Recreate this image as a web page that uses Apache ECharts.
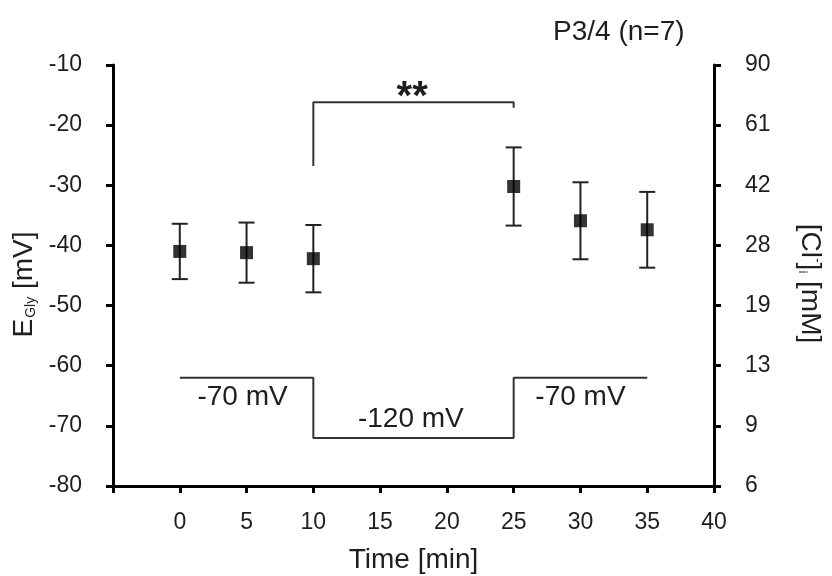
<!DOCTYPE html>
<html>
<head>
<meta charset="utf-8">
<script src="https://cdn.jsdelivr.net/npm/echarts@6/dist/echarts.min.js"></script>
<style>
  html, body { margin: 0; background: #fff; }
  #chart { width: 832px; height: 576px; }
</style>
</head>
<body>
<div id="chart"></div>
<script>
// measured points (mean +/- error) of E_Gly over time
const times = [0, 5, 10, 25, 30, 35];
const means = [-41.0, -41.2, -42.2, -30.2, -35.9, -37.4];
const errs = [4.6, 5.0, 5.6, 6.5, 6.4, 6.3];

// right axis tick labels ([Cl-]i in mM), bottom to top
const clLabels = ["6", "9", "13", "19", "28", "42", "61", "90"];

// holding potential protocol drawn below the points
const stepX = [0, 10, 10, 25, 25, 35];
const stepY = [-62, -62, -72, -72, -62, -62];
const stepText = ["-70 mV", "-120 mV", "-70 mV"];
const stepTextX = [4.7, 17.3, 30];
const stepTextY = [-65.3, -68.9, -65.3];

// significance bracket
const bracketX = [10, 10, 25, 25];
const bracketY = [-26.8, -16.2, -16.2, -17.1];
const starText = ["**"];
const starX = [17.4];
const starY = [-15.5];

const font = "Liberation Sans";
const txt = "#1e1e1e";

let myChart = echarts.init(document.getElementById("chart"));

myChart.setOption({
  backgroundColor: "#fff",
  animation: false,
  textStyle: { fontFamily: font },
  title: {
    text: "P3/4 (n=7)",
    left: 548,
    top: 13,
    textStyle: { fontFamily: font, fontSize: 28, fontWeight: "normal", color: txt },
  },
  grid: { left: 113, right: 118, top: 65, bottom: 90, outerBoundsMode: "none" },
  xAxis: {
    type: "value",
    min: -5,
    max: 40,
    interval: 5,
    name: "Time [min]",
    nameLocation: "middle",
    nameGap: 60,
    nameTextStyle: { fontSize: 28, color: txt, fontFamily: font },
    splitLine: { show: false },
    axisLine: { onZero: false, lineStyle: { color: "#000", width: 3 } },
    axisTick: { length: 7, lineStyle: { color: "#000", width: 3 } },
    axisLabel: {
      margin: 25,
      fontSize: 23,
      color: txt,
      fontFamily: font,
      formatter: (v) => (v < 0 ? "" : String(v)),
    },
  },
  yAxis: [
    {
      type: "value",
      min: -80,
      max: -10,
      interval: 10,
      position: "left",
      name: "{e|E}{s|Gly}{e| [mV]}",
      nameLocation: "middle",
      nameRotate: 90,
      nameGap: 72,
      nameTextStyle: {
        color: txt,
        fontFamily: font,
        padding: [0, 18, 0, 0],
        rich: {
          e: { fontSize: 28, color: txt, fontFamily: font },
          s: { fontSize: 14, color: txt, fontFamily: font, verticalAlign: "bottom", padding: [0, 0, 0, 1] },
        },
      },
      splitLine: { show: false },
      axisLine: { show: true, onZero: false, lineStyle: { color: "#000", width: 3 } },
      axisTick: { show: true, length: 7, lineStyle: { color: "#000", width: 3 } },
      axisLabel: { margin: 31, fontSize: 23, color: txt, fontFamily: font },
    },
    {
      type: "value",
      min: -80,
      max: -10,
      interval: 10,
      position: "right",
      name: "[Cl{p|-}]{s|i}{e| [mM]}",
      nameLocation: "middle",
      nameRotate: -90,
      nameGap: 82,
      nameTextStyle: {
        fontSize: 28,
        color: txt,
        fontFamily: font,
        padding: [0, 0, 0, 16],
        rich: {
          e: { fontSize: 28, color: txt, fontFamily: font },
          p: { fontSize: 14, color: txt, fontFamily: font, verticalAlign: "top" },
          s: { fontSize: 13, color: txt, fontFamily: font, verticalAlign: "bottom" },
        },
      },
      splitLine: { show: false },
      axisLine: { show: true, onZero: false, lineStyle: { color: "#000", width: 3 } },
      axisTick: { show: true, length: 7, lineStyle: { color: "#000", width: 3 } },
      axisLabel: {
        margin: 31,
        fontSize: 23,
        color: txt,
        fontFamily: font,
        formatter: (v) => clLabels[Math.round((v + 80) / 10)],
      },
    },
  ],
  series: [
    {
      name: "protocol",
      type: "line",
      data: stepX.map((x, i) => [x, stepY[i]]),
      symbol: "none",
      silent: true,
      lineStyle: { color: "#333", width: 2 },
    },
    {
      name: "bracket",
      type: "line",
      data: bracketX.map((x, i) => [x, bracketY[i]]),
      symbol: "none",
      silent: true,
      lineStyle: { color: "#333", width: 2 },
    },
    {
      name: "errors",
      type: "custom",
      data: times.map((t, i) => [t, means[i] - errs[i], means[i] + errs[i]]),
      renderItem: function (params, api) {
        const lo = api.coord([api.value(0), api.value(1)]);
        const hi = api.coord([api.value(0), api.value(2)]);
        const w = 8;
        const style = { stroke: "#222", lineWidth: 2 };
        return {
          type: "group",
          children: [
            { type: "line", shape: { x1: lo[0], y1: lo[1], x2: hi[0], y2: hi[1] }, style: style },
            { type: "line", shape: { x1: lo[0] - w, y1: lo[1], x2: lo[0] + w, y2: lo[1] }, style: style },
            { type: "line", shape: { x1: hi[0] - w, y1: hi[1], x2: hi[0] + w, y2: hi[1] }, style: style },
          ],
        };
      },
      z: 3,
    },
    {
      name: "E_Gly",
      type: "scatter",
      data: times.map((t, i) => [t, means[i]]),
      symbol: "rect",
      symbolSize: 13,
      itemStyle: { color: "#000" },
      z: 4,
    },
    {
      name: "steps",
      type: "scatter",
      silent: true,
      symbolSize: 0,
      itemStyle: { color: "#fff", opacity: 1 },
      data: stepText.map((s, i) => ({ name: s, value: [stepTextX[i], stepTextY[i]] })),
      label: {
        show: true,
        position: "inside",
        formatter: "{b}",
        fontSize: 28,
        color: txt,
        textBorderWidth: 0,
        fontFamily: font,
      },
    },
    {
      name: "stars",
      type: "scatter",
      silent: true,
      symbolSize: 0,
      itemStyle: { color: "#fff", opacity: 1 },
      data: starText.map((s, i) => ({ name: s, value: [starX[i], starY[i]] })),
      label: {
        show: true,
        position: "inside",
        formatter: "{b}",
        fontSize: 40,
        fontWeight: "bold",
        color: txt,
        textBorderWidth: 0,
        fontFamily: font,
      },
    },
  ],
});

window.onresize = function () {
  myChart.resize();
};
</script>
</body>
</html>
